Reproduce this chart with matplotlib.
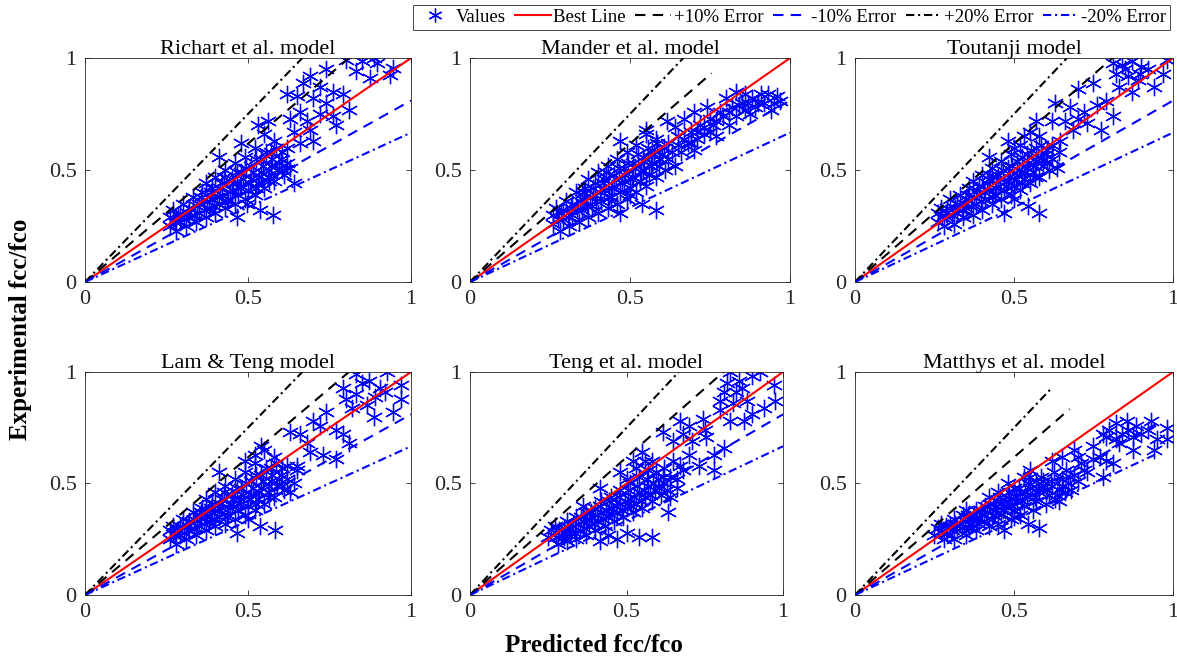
import numpy as np
import matplotlib
matplotlib.use('Agg')
import matplotlib.pyplot as plt

plt.rcParams['font.family'] = ['Liberation Serif', 'DejaVu Serif']

# Datos (predicho, experimental) para cada modelo
titulos = ['Richart et al. model', 'Mander et al. model', 'Toutanji model',
           'Lam & Teng model', 'Teng et al. model', 'Matthys et al. model']

richart_pts = [
    (0.26, 0.25), (0.26, 0.29), (0.27, 0.32), (0.28, 0.23), (0.29, 0.27), (0.29, 0.31), (0.30, 0.35),
    (0.31, 0.25), (0.32, 0.29), (0.32, 0.33), (0.33, 0.38), (0.34, 0.27), (0.35, 0.31), (0.35, 0.35),
    (0.36, 0.40), (0.37, 0.44), (0.37, 0.29), (0.38, 0.33), (0.39, 0.37), (0.39, 0.42), (0.40, 0.47),
    (0.40, 0.31), (0.41, 0.35), (0.42, 0.39), (0.42, 0.44), (0.43, 0.50), (0.43, 0.33), (0.44, 0.37),
    (0.45, 0.41), (0.45, 0.46), (0.46, 0.53), (0.46, 0.35), (0.47, 0.39), (0.48, 0.43), (0.48, 0.49),
    (0.49, 0.56), (0.49, 0.37), (0.50, 0.41), (0.51, 0.46), (0.51, 0.52), (0.52, 0.60), (0.52, 0.39),
    (0.53, 0.44), (0.54, 0.49), (0.54, 0.55), (0.55, 0.66), (0.55, 0.42), (0.56, 0.47), (0.57, 0.52),
    (0.57, 0.58), (0.58, 0.63), (0.58, 0.45), (0.59, 0.50), (0.60, 0.55), (0.61, 0.48), (0.62, 0.53),
    (0.62, 0.60), (0.53, 0.70), (0.56, 0.72), (0.48, 0.62), (0.41, 0.56), (0.64, 0.44),
    (0.465, 0.29), (0.537, 0.32), (0.578, 0.30), (0.496, 0.35),
    (0.80, 0.99), (0.85, 0.985), (0.885, 1.0), (0.895, 0.98), (0.945, 0.955), (0.935, 0.925),
    (0.874, 0.91), (0.83, 0.94), (0.74, 0.95), (0.69, 0.92), (0.67, 0.89), (0.72, 0.87), (0.62, 0.84),
    (0.65, 0.83), (0.70, 0.82), (0.76, 0.85), (0.79, 0.84), (0.74, 0.80), (0.81, 0.77), (0.77, 0.70),
    (0.69, 0.68), (0.76, 0.74), (0.63, 0.73), (0.66, 0.76), (0.64, 0.67), (0.68, 0.72), (0.72, 0.75),
    (0.70, 0.63), (0.66, 0.62), (0.63, 0.51)]
richart_denso = [
    (0.275, 0.27), (0.285, 0.30), (0.305, 0.28), (0.315, 0.31), (0.335, 0.30), (0.345, 0.34), (0.355, 0.38),
    (0.365, 0.32), (0.375, 0.36), (0.385, 0.40), (0.395, 0.34), (0.405, 0.38), (0.415, 0.42), (0.425, 0.47),
    (0.435, 0.36), (0.445, 0.40), (0.455, 0.44), (0.465, 0.49), (0.475, 0.42), (0.485, 0.46), (0.495, 0.51),
    (0.505, 0.44), (0.515, 0.49), (0.525, 0.55), (0.535, 0.47), (0.545, 0.52), (0.555, 0.58), (0.565, 0.50),
    (0.575, 0.55), (0.585, 0.60), (0.595, 0.53), (0.605, 0.58), (0.525, 0.42), (0.565, 0.45), (0.605, 0.50)]

mander_pts = [
    (0.26, 0.26), (0.26, 0.30), (0.27, 0.33), (0.28, 0.23), (0.29, 0.28), (0.29, 0.32), (0.30, 0.36),
    (0.31, 0.25), (0.32, 0.30), (0.32, 0.35), (0.33, 0.40), (0.34, 0.27), (0.35, 0.32), (0.35, 0.37),
    (0.36, 0.42), (0.37, 0.46), (0.37, 0.29), (0.38, 0.34), (0.39, 0.39), (0.39, 0.44), (0.40, 0.49),
    (0.40, 0.31), (0.41, 0.36), (0.42, 0.41), (0.42, 0.46), (0.43, 0.52), (0.43, 0.33), (0.44, 0.38),
    (0.45, 0.43), (0.45, 0.48), (0.46, 0.55), (0.46, 0.35), (0.47, 0.40), (0.48, 0.45), (0.48, 0.51),
    (0.49, 0.58), (0.49, 0.37), (0.50, 0.42), (0.51, 0.47), (0.51, 0.53), (0.52, 0.61), (0.52, 0.40),
    (0.53, 0.45), (0.54, 0.50), (0.54, 0.56), (0.55, 0.66), (0.55, 0.43), (0.56, 0.48), (0.57, 0.53),
    (0.57, 0.59), (0.58, 0.64), (0.58, 0.47), (0.59, 0.52), (0.60, 0.57), (0.61, 0.50), (0.62, 0.55),
    (0.62, 0.62), (0.47, 0.63), (0.55, 0.68), (0.64, 0.52), (0.66, 0.58), (0.65, 0.65), (0.68, 0.62),
    (0.70, 0.59),
    (0.47, 0.31), (0.536, 0.35), (0.58, 0.32), (0.50, 0.39),
    (0.615, 0.72), (0.64, 0.69), (0.67, 0.73), (0.70, 0.76), (0.72, 0.70), (0.74, 0.78), (0.75, 0.73),
    (0.77, 0.65), (0.78, 0.76), (0.80, 0.82), (0.81, 0.70), (0.82, 0.78), (0.83, 0.85), (0.85, 0.80),
    (0.86, 0.84), (0.875, 0.75), (0.88, 0.82), (0.90, 0.80), (0.91, 0.84), (0.93, 0.84), (0.94, 0.77),
    (0.97, 0.81), (0.96, 0.83), (0.73, 0.66), (0.76, 0.70), (0.69, 0.67), (0.71, 0.64)]
mander_denso = [
    (0.275, 0.28), (0.285, 0.31), (0.305, 0.29), (0.315, 0.33), (0.335, 0.32), (0.345, 0.36), (0.355, 0.40),
    (0.365, 0.34), (0.375, 0.38), (0.385, 0.42), (0.395, 0.36), (0.405, 0.40), (0.415, 0.44), (0.425, 0.49),
    (0.435, 0.38), (0.445, 0.42), (0.455, 0.46), (0.465, 0.51), (0.475, 0.44), (0.485, 0.48), (0.495, 0.53),
    (0.505, 0.46), (0.515, 0.51), (0.525, 0.57), (0.535, 0.49), (0.545, 0.54), (0.555, 0.60), (0.565, 0.52),
    (0.575, 0.57), (0.585, 0.62), (0.595, 0.55), (0.605, 0.60), (0.63, 0.58), (0.65, 0.61), (0.67, 0.64),
    (0.69, 0.62), (0.71, 0.67), (0.73, 0.69), (0.75, 0.67), (0.77, 0.72), (0.79, 0.74), (0.81, 0.76),
    (0.84, 0.79), (0.87, 0.80), (0.89, 0.78), (0.92, 0.80), (0.95, 0.80), (0.83, 0.74), (0.86, 0.77)]

toutanji_pts = [
    (0.26, 0.27), (0.26, 0.31), (0.27, 0.33), (0.28, 0.25), (0.29, 0.29), (0.29, 0.33), (0.30, 0.37),
    (0.31, 0.26), (0.32, 0.31), (0.32, 0.35), (0.33, 0.39), (0.34, 0.29), (0.35, 0.33), (0.35, 0.37),
    (0.36, 0.42), (0.37, 0.45), (0.37, 0.30), (0.38, 0.35), (0.39, 0.39), (0.39, 0.43), (0.40, 0.48),
    (0.40, 0.32), (0.41, 0.37), (0.42, 0.41), (0.42, 0.46), (0.43, 0.51), (0.43, 0.35), (0.44, 0.39),
    (0.45, 0.43), (0.45, 0.48), (0.46, 0.54), (0.46, 0.37), (0.47, 0.41), (0.48, 0.45), (0.48, 0.51),
    (0.49, 0.57), (0.49, 0.39), (0.50, 0.43), (0.51, 0.48), (0.51, 0.54), (0.52, 0.61), (0.52, 0.41),
    (0.53, 0.46), (0.54, 0.51), (0.54, 0.57), (0.55, 0.67), (0.55, 0.44), (0.56, 0.49), (0.57, 0.54),
    (0.57, 0.60), (0.58, 0.65), (0.58, 0.47), (0.59, 0.52), (0.60, 0.57), (0.61, 0.50), (0.62, 0.55),
    (0.62, 0.61), (0.57, 0.72), (0.48, 0.63), (0.42, 0.56), (0.64, 0.58),
    (0.47, 0.31), (0.545, 0.34), (0.58, 0.31), (0.50, 0.37), (0.634, 0.51),
    (0.81, 0.98), (0.84, 0.97), (0.87, 0.985), (0.90, 0.96), (0.82, 0.93), (0.86, 0.92), (0.895, 0.93),
    (0.98, 0.99), (0.97, 0.93), (0.94, 0.87), (0.87, 0.85), (0.83, 0.87), (0.75, 0.89), (0.70, 0.86),
    (0.63, 0.80), (0.675, 0.78), (0.72, 0.76), (0.76, 0.79), (0.79, 0.81), (0.81, 0.74), (0.775, 0.68),
    (0.73, 0.71), (0.686, 0.68), (0.644, 0.63), (0.62, 0.72), (0.66, 0.72), (0.70, 0.73), (0.85, 0.95),
    (0.89, 0.90), (0.92, 0.95)]
toutanji_denso = [
    (0.275, 0.29), (0.285, 0.31), (0.305, 0.30), (0.315, 0.33), (0.335, 0.32), (0.345, 0.35), (0.355, 0.39),
    (0.365, 0.34), (0.375, 0.38), (0.385, 0.41), (0.395, 0.36), (0.405, 0.40), (0.415, 0.44), (0.425, 0.48),
    (0.435, 0.38), (0.445, 0.42), (0.455, 0.46), (0.465, 0.50), (0.475, 0.43), (0.485, 0.47), (0.495, 0.52),
    (0.505, 0.46), (0.515, 0.50), (0.525, 0.56), (0.535, 0.49), (0.545, 0.53), (0.555, 0.59), (0.565, 0.52),
    (0.575, 0.56), (0.585, 0.61), (0.595, 0.55), (0.605, 0.59), (0.525, 0.44), (0.565, 0.47), (0.605, 0.53),
    (0.53, 0.65), (0.50, 0.60)]

lam_teng_pts = [
    (0.26, 0.25), (0.26, 0.29), (0.27, 0.31), (0.28, 0.23), (0.29, 0.27), (0.29, 0.31), (0.30, 0.34),
    (0.31, 0.25), (0.32, 0.29), (0.32, 0.33), (0.33, 0.37), (0.34, 0.27), (0.35, 0.31), (0.35, 0.35),
    (0.36, 0.39), (0.37, 0.43), (0.37, 0.29), (0.38, 0.33), (0.39, 0.37), (0.39, 0.41), (0.40, 0.46),
    (0.40, 0.31), (0.41, 0.35), (0.42, 0.39), (0.42, 0.43), (0.43, 0.49), (0.43, 0.32), (0.44, 0.36),
    (0.45, 0.41), (0.45, 0.45), (0.46, 0.52), (0.46, 0.34), (0.47, 0.38), (0.48, 0.43), (0.48, 0.48),
    (0.49, 0.55), (0.49, 0.36), (0.50, 0.40), (0.51, 0.45), (0.51, 0.51), (0.52, 0.59), (0.52, 0.38),
    (0.53, 0.43), (0.54, 0.48), (0.54, 0.54), (0.55, 0.65), (0.55, 0.41), (0.56, 0.46), (0.57, 0.51),
    (0.57, 0.57), (0.58, 0.62), (0.58, 0.44), (0.59, 0.49), (0.60, 0.54), (0.61, 0.47), (0.62, 0.52),
    (0.62, 0.58), (0.54, 0.67), (0.41, 0.55), (0.64, 0.50), (0.65, 0.56),
    (0.465, 0.28), (0.537, 0.31), (0.583, 0.29), (0.50, 0.34), (0.63, 0.46),
    (0.83, 0.99), (0.87, 0.96), (0.925, 1.0), (0.905, 0.93), (0.97, 0.94), (0.97, 0.88), (0.945, 0.82),
    (0.885, 0.80), (0.865, 0.85), (0.80, 0.88), (0.79, 0.93), (0.83, 0.90), (0.74, 0.82), (0.70, 0.78),
    (0.72, 0.76), (0.63, 0.73), (0.66, 0.72), (0.77, 0.74), (0.79, 0.72), (0.81, 0.68), (0.77, 0.61),
    (0.73, 0.63), (0.69, 0.64), (0.65, 0.58), (0.68, 0.68), (0.85, 0.95), (0.89, 0.89), (0.92, 0.91),
    (0.82, 0.84)]
lam_teng_denso = [
    (0.275, 0.27), (0.285, 0.29), (0.305, 0.28), (0.315, 0.31), (0.335, 0.30), (0.345, 0.33), (0.355, 0.37),
    (0.365, 0.32), (0.375, 0.35), (0.385, 0.39), (0.395, 0.34), (0.405, 0.38), (0.415, 0.41), (0.425, 0.46),
    (0.435, 0.35), (0.445, 0.39), (0.455, 0.43), (0.465, 0.48), (0.475, 0.41), (0.485, 0.45), (0.495, 0.50),
    (0.505, 0.43), (0.515, 0.48), (0.525, 0.54), (0.535, 0.46), (0.545, 0.51), (0.555, 0.57), (0.565, 0.49),
    (0.575, 0.54), (0.585, 0.59), (0.595, 0.52), (0.605, 0.57), (0.525, 0.41), (0.565, 0.44), (0.605, 0.49),
    (0.52, 0.63), (0.49, 0.60)]

teng_pts = [
    (0.25, 0.26), (0.26, 0.29), (0.27, 0.31), (0.28, 0.23), (0.29, 0.27), (0.30, 0.30), (0.31, 0.33),
    (0.31, 0.24), (0.32, 0.28), (0.33, 0.31), (0.34, 0.35), (0.34, 0.25), (0.35, 0.29), (0.36, 0.33),
    (0.37, 0.37), (0.37, 0.27), (0.38, 0.31), (0.39, 0.35), (0.40, 0.39), (0.40, 0.29), (0.41, 0.33),
    (0.42, 0.37), (0.42, 0.42), (0.43, 0.31), (0.44, 0.35), (0.45, 0.39), (0.45, 0.44), (0.46, 0.33),
    (0.47, 0.37), (0.48, 0.41), (0.48, 0.47), (0.49, 0.35), (0.50, 0.39), (0.51, 0.43), (0.51, 0.50),
    (0.52, 0.37), (0.53, 0.41), (0.54, 0.46), (0.54, 0.53), (0.55, 0.64), (0.55, 0.39), (0.56, 0.44),
    (0.57, 0.49), (0.57, 0.56), (0.58, 0.60), (0.58, 0.42), (0.59, 0.47), (0.60, 0.52), (0.61, 0.45),
    (0.62, 0.50), (0.62, 0.57), (0.48, 0.55), (0.415, 0.48), (0.64, 0.44), (0.66, 0.52), (0.65, 0.60),
    (0.68, 0.56), (0.52, 0.60), (0.36, 0.40), (0.30, 0.26),
    (0.415, 0.24), (0.47, 0.25), (0.54, 0.26), (0.58, 0.26), (0.50, 0.28), (0.633, 0.37), (0.44, 0.27),
    (0.617, 0.73), (0.67, 0.78), (0.70, 0.76), (0.745, 0.79), (0.65, 0.69), (0.71, 0.69), (0.755, 0.71),
    (0.81, 0.66), (0.78, 0.63), (0.73, 0.58), (0.78, 0.56), (0.70, 0.63), (0.68, 0.72), (0.75, 0.74),
    (0.83, 1.0), (0.86, 0.96), (0.90, 0.98), (0.925, 1.0), (0.81, 0.91), (0.80, 0.87), (0.85, 0.91),
    (0.885, 0.87), (0.90, 0.81), (0.875, 0.78), (0.83, 0.78), (0.97, 0.94), (0.975, 0.87), (0.94, 0.84),
    (0.80, 0.83), (0.84, 0.86), (0.87, 0.93), (0.82, 0.95)]
teng_denso = [
    (0.275, 0.26), (0.285, 0.29), (0.305, 0.28), (0.315, 0.30), (0.335, 0.28), (0.345, 0.32), (0.355, 0.35),
    (0.365, 0.30), (0.375, 0.34), (0.385, 0.37), (0.395, 0.32), (0.405, 0.36), (0.415, 0.40), (0.425, 0.34),
    (0.435, 0.38), (0.445, 0.42), (0.455, 0.36), (0.465, 0.40), (0.475, 0.44), (0.485, 0.38), (0.495, 0.42),
    (0.505, 0.47), (0.515, 0.40), (0.525, 0.44), (0.535, 0.49), (0.545, 0.42), (0.555, 0.47), (0.565, 0.52),
    (0.575, 0.45), (0.585, 0.50), (0.595, 0.55), (0.605, 0.48), (0.615, 0.53), (0.63, 0.47), (0.64, 0.53),
    (0.50, 0.52), (0.53, 0.57), (0.56, 0.60), (0.66, 0.48), (0.67, 0.58)]

matthys_pts = [
    (0.25, 0.27), (0.26, 0.30), (0.27, 0.32), (0.28, 0.25), (0.29, 0.28), (0.30, 0.31), (0.31, 0.34),
    (0.31, 0.25), (0.32, 0.29), (0.33, 0.32), (0.34, 0.36), (0.35, 0.27), (0.36, 0.30), (0.37, 0.34),
    (0.38, 0.38), (0.38, 0.29), (0.39, 0.32), (0.40, 0.36), (0.41, 0.40), (0.42, 0.31), (0.43, 0.34),
    (0.44, 0.38), (0.45, 0.42), (0.45, 0.32), (0.46, 0.36), (0.47, 0.40), (0.48, 0.44), (0.48, 0.50),
    (0.49, 0.34), (0.50, 0.38), (0.51, 0.42), (0.52, 0.46), (0.52, 0.36), (0.53, 0.40), (0.54, 0.44),
    (0.55, 0.48), (0.55, 0.56), (0.56, 0.38), (0.57, 0.42), (0.58, 0.46), (0.59, 0.51), (0.60, 0.41),
    (0.61, 0.45), (0.62, 0.49), (0.63, 0.43), (0.64, 0.47), (0.65, 0.52), (0.66, 0.46), (0.67, 0.50),
    (0.64, 0.42), (0.55, 0.53), (0.50, 0.48), (0.42, 0.44), (0.35, 0.38), (0.69, 0.54), (0.57, 0.51),
    (0.47, 0.29), (0.545, 0.32), (0.58, 0.30), (0.50, 0.35),
    (0.62, 0.60), (0.69, 0.65), (0.75, 0.67), (0.77, 0.62), (0.79, 0.60), (0.81, 0.59), (0.78, 0.53),
    (0.71, 0.59), (0.665, 0.56), (0.73, 0.55), (0.75, 0.61), (0.65, 0.62), (0.70, 0.62),
    (0.78, 0.72), (0.82, 0.77), (0.855, 0.78), (0.885, 0.76), (0.93, 0.78), (0.92, 0.74), (0.875, 0.71),
    (0.83, 0.68), (0.79, 0.71), (0.98, 0.75), (0.98, 0.70), (0.94, 0.65), (0.875, 0.65), (0.80, 0.74),
    (0.84, 0.72), (0.86, 0.74), (0.90, 0.72), (0.82, 0.70), (0.95, 0.70)]
matthys_denso = [
    (0.275, 0.28), (0.285, 0.31), (0.305, 0.29), (0.315, 0.32), (0.335, 0.30), (0.345, 0.33), (0.355, 0.36),
    (0.365, 0.32), (0.375, 0.36), (0.385, 0.34), (0.395, 0.38), (0.405, 0.33), (0.415, 0.37), (0.425, 0.41),
    (0.435, 0.36), (0.445, 0.40), (0.455, 0.44), (0.465, 0.38), (0.475, 0.42), (0.485, 0.46), (0.495, 0.40),
    (0.505, 0.44), (0.515, 0.48), (0.525, 0.42), (0.535, 0.46), (0.545, 0.50), (0.565, 0.44), (0.575, 0.48),
    (0.585, 0.53), (0.605, 0.47), (0.615, 0.51), (0.625, 0.55), (0.635, 0.45), (0.655, 0.49), (0.675, 0.53),
    (0.68, 0.47), (0.70, 0.51), (0.72, 0.56), (0.53, 0.53), (0.45, 0.46)]

datos = [richart_pts + richart_denso, mander_pts + mander_denso,
         toutanji_pts + toutanji_denso, lam_teng_pts + lam_teng_denso,
         teng_pts + teng_denso, matthys_pts + matthys_denso]

# Pendientes de las lineas de error y hasta donde llegan en x
pendientes = [1.0, 1.235, 0.81, 1.5, 0.667]
fin_mas = [1.0, 0.755, 1.0, 1.0, 1.0, 0.675]     # +10% Error
fin_mas20 = [1.0, 1.0, 1.0, 1.0, 1.0, 0.62]      # +20% Error
fin_menos = [1.0, 1.0, 1.0, 1.0, 1.0, 0.95]      # -10% y -20% Error

nombres = ['Values', 'Best Line', '+10% Error', '-10% Error', '+20% Error', '-20% Error']

# Posicion de cada eje [left, bottom, width, height]
posiciones = [
    [0.0722, 0.5714, 0.2770, 0.3404],
    [0.3993, 0.5714, 0.2719, 0.3404],
    [0.7264, 0.5714, 0.2702, 0.3404],
    [0.0722, 0.0957, 0.2770, 0.3390],
    [0.3993, 0.0957, 0.2660, 0.3390],
    [0.7264, 0.0957, 0.2702, 0.3390],
]

asterisco = (6, 2, 0)
gris = '#262626'

fig = plt.figure(figsize=(11.77, 6.58), dpi=100)

handles = None
for i in range(6):
    ax = fig.add_axes(posiciones[i])
    pts = np.array(datos[i])
    h0, = ax.plot(pts[:, 0], pts[:, 1], linestyle='none', marker=asterisco,
                  markersize=12.5, markeredgewidth=0.95, color='blue')

    x1 = np.array([0, 1.0])
    h1, = ax.plot(x1, pendientes[0] * x1, color='red', lw=1.5)
    x2 = np.array([0, fin_mas[i]])
    h2, = ax.plot(x2, pendientes[1] * x2, color='black', lw=1.5, dashes=(5, 3.5))
    x3 = np.array([0, fin_menos[i]])
    h3, = ax.plot(x3, pendientes[2] * x3, color='blue', lw=1.5, dashes=(5, 3.5))
    x4 = np.array([0, fin_mas20[i]])
    h4, = ax.plot(x4, pendientes[3] * x4, color='black', lw=1.5, dashes=(4, 1.8, 1, 1.8))
    h5, = ax.plot(x3, pendientes[4] * x3, color='blue', lw=1.5, dashes=(4, 1.8, 1, 1.8))
    handles = [h0, h1, h2, h3, h4, h5]

    ax.set_xlim(0, 1)
    ax.set_ylim(0, 1)
    ax.set_xticks([0, 0.5, 1])
    ax.set_yticks([0, 0.5, 1])
    ax.set_xticklabels(['0', '0.5', '1'])
    ax.set_yticklabels(['0', '0.5', '1'])
    ax.tick_params(direction='in', length=3.5, width=0.6, top=True, right=True,
                   labelsize=16, colors=gris, labelcolor='#262626', pad=6)
    for s in ax.spines.values():
        s.set_color(gris)
        s.set_linewidth(0.6)
    ax.set_title(titulos[i], fontsize=16, pad=3)

# Leyenda comun arriba
leg = fig.legend(handles, nombres, loc='upper right', bbox_to_anchor=(1170 / 1177, 1 - 5 / 658),
                 ncol=6, fontsize=13.5, frameon=True, fancybox=False, framealpha=1,
                 edgecolor='#262626', handlelength=1.9, handletextpad=0.15,
                 columnspacing=0.5, borderpad=0.2, borderaxespad=0, markerscale=0.8)
leg.get_frame().set_linewidth(0.6)

fig.text(0.017, 0.5, 'Experimental fcc/fco', rotation=90, fontsize=18,
         fontweight='bold', ha='center', va='center')
fig.text(594 / 1177, 1 - 645 / 658, 'Predicted fcc/fco', fontsize=18,
         fontweight='bold', ha='center', va='center')

fig.savefig('out.png', dpi=100)
